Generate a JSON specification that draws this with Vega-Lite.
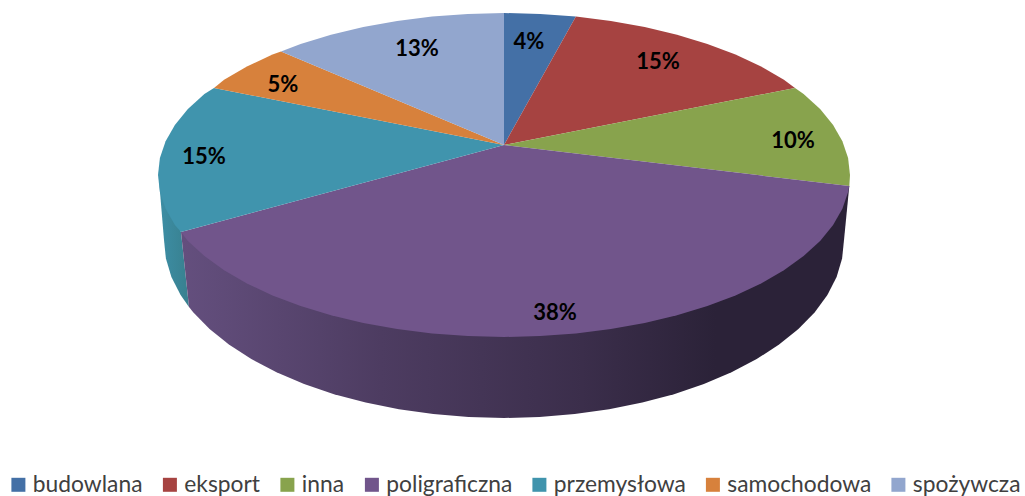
{"$schema":"https://vega.github.io/schema/vega-lite/v6.json","width":1025,"height":496,"padding":0,"autosize":{"type":"none"},"background":"white","config":{"view":{"stroke":null}},
"datasets":{
"walls_teal":[{"i":0,"x":159,"y":180},{"i":1,"x":164,"y":240},{"i":2,"x":165.9,"y":258.6},{"i":3,"x":171.4,"y":277},{"i":4,"x":180.6,"y":295},{"i":5,"x":189,"y":307},{"i":6,"x":181,"y":232}],
"walls_purple":[{"i":0,"x":849.3,"y":186},{"i":1,"x":844,"y":240},{"i":2,"x":842.1,"y":258.6},{"i":3,"x":836.6,"y":277},{"i":4,"x":827.4,"y":295},{"i":5,"x":814.6,"y":312.4},{"i":6,"x":798.4,"y":329},{"i":7,"x":779.1,"y":344.6},{"i":8,"x":756.7,"y":359.1},{"i":9,"x":731.5,"y":372.3},{"i":10,"x":703.9,"y":384},{"i":11,"x":674,"y":394.2},{"i":12,"x":642.3,"y":402.6},{"i":13,"x":609.1,"y":409.3},{"i":14,"x":574.7,"y":414.1},{"i":15,"x":539.5,"y":417},{"i":16,"x":504,"y":418},{"i":17,"x":468.5,"y":417},{"i":18,"x":433.3,"y":414.1},{"i":19,"x":398.9,"y":409.3},{"i":20,"x":365.7,"y":402.6},{"i":21,"x":334,"y":394.2},{"i":22,"x":304.1,"y":384},{"i":23,"x":276.5,"y":372.3},{"i":24,"x":251.3,"y":359.1},{"i":25,"x":228.9,"y":344.6},{"i":26,"x":209.6,"y":329},{"i":27,"x":193.4,"y":312.4},{"i":28,"x":189,"y":307},{"i":29,"x":181,"y":232}],
"slices":[
{"slice":"budowlana","i":0,"x":504,"y":145},{"slice":"budowlana","i":1,"x":504,"y":13},{"slice":"budowlana","i":2,"x":540.2,"y":13.9},{"slice":"budowlana","i":3,"x":575.9,"y":16.5},
{"slice":"eksport","i":0,"x":504,"y":145},{"slice":"eksport","i":1,"x":575.9,"y":16.5},{"slice":"eksport","i":2,"x":610.9,"y":20.9},{"slice":"eksport","i":3,"x":644.7,"y":27},{"slice":"eksport","i":4,"x":677,"y":34.7},{"slice":"eksport","i":5,"x":707.4,"y":43.9},{"slice":"eksport","i":6,"x":735.5,"y":54.6},{"slice":"eksport","i":7,"x":761.1,"y":66.6},{"slice":"eksport","i":8,"x":783.9,"y":79.8},{"slice":"eksport","i":9,"x":795,"y":88},
{"slice":"inna","i":0,"x":504,"y":145},{"slice":"inna","i":1,"x":795,"y":88},{"slice":"inna","i":2,"x":803.6,"y":94},{"slice":"inna","i":3,"x":820.1,"y":109.1},{"slice":"inna","i":4,"x":833.1,"y":124.9},{"slice":"inna","i":5,"x":842.4,"y":141.3},{"slice":"inna","i":6,"x":848.1,"y":158.1},{"slice":"inna","i":7,"x":850,"y":175},{"slice":"inna","i":8,"x":849.3,"y":186},
{"slice":"poligraficzna","i":0,"x":504,"y":145},{"slice":"poligraficzna","i":1,"x":849.3,"y":186},{"slice":"poligraficzna","i":2,"x":848.1,"y":191.9},{"slice":"poligraficzna","i":3,"x":842.4,"y":208.7},{"slice":"poligraficzna","i":4,"x":833.1,"y":225.1},{"slice":"poligraficzna","i":5,"x":820.1,"y":240.9},{"slice":"poligraficzna","i":6,"x":803.6,"y":256},{"slice":"poligraficzna","i":7,"x":783.9,"y":270.2},{"slice":"poligraficzna","i":8,"x":761.1,"y":283.4},{"slice":"poligraficzna","i":9,"x":735.5,"y":295.4},{"slice":"poligraficzna","i":10,"x":707.4,"y":306.1},{"slice":"poligraficzna","i":11,"x":677,"y":315.3},{"slice":"poligraficzna","i":12,"x":644.7,"y":323},{"slice":"poligraficzna","i":13,"x":610.9,"y":329.1},{"slice":"poligraficzna","i":14,"x":575.9,"y":333.5},{"slice":"poligraficzna","i":15,"x":540.2,"y":336.1},{"slice":"poligraficzna","i":16,"x":504,"y":337},{"slice":"poligraficzna","i":17,"x":467.8,"y":336.1},{"slice":"poligraficzna","i":18,"x":432.1,"y":333.5},{"slice":"poligraficzna","i":19,"x":397.1,"y":329.1},{"slice":"poligraficzna","i":20,"x":363.3,"y":323},{"slice":"poligraficzna","i":21,"x":331,"y":315.3},{"slice":"poligraficzna","i":22,"x":300.6,"y":306.1},{"slice":"poligraficzna","i":23,"x":272.5,"y":295.4},{"slice":"poligraficzna","i":24,"x":246.9,"y":283.4},{"slice":"poligraficzna","i":25,"x":224.1,"y":270.2},{"slice":"poligraficzna","i":26,"x":204.4,"y":256},{"slice":"poligraficzna","i":27,"x":187.9,"y":240.9},{"slice":"poligraficzna","i":28,"x":181,"y":232},
{"slice":"przemysłowa","i":0,"x":504,"y":145},{"slice":"przemysłowa","i":1,"x":181,"y":232},{"slice":"przemysłowa","i":2,"x":174.9,"y":225.1},{"slice":"przemysłowa","i":3,"x":165.6,"y":208.7},{"slice":"przemysłowa","i":4,"x":159.9,"y":191.9},{"slice":"przemysłowa","i":5,"x":158,"y":175},{"slice":"przemysłowa","i":6,"x":159.9,"y":158.1},{"slice":"przemysłowa","i":7,"x":165.6,"y":141.3},{"slice":"przemysłowa","i":8,"x":174.9,"y":124.9},{"slice":"przemysłowa","i":9,"x":187.9,"y":109.1},{"slice":"przemysłowa","i":10,"x":204.4,"y":94},{"slice":"przemysłowa","i":11,"x":214,"y":88},
{"slice":"samochodowa","i":0,"x":504,"y":145},{"slice":"samochodowa","i":1,"x":214,"y":88},{"slice":"samochodowa","i":2,"x":224.1,"y":79.8},{"slice":"samochodowa","i":3,"x":246.9,"y":66.6},{"slice":"samochodowa","i":4,"x":272.5,"y":54.6},{"slice":"samochodowa","i":5,"x":281,"y":51.4},
{"slice":"spożywcza","i":0,"x":504,"y":145},{"slice":"spożywcza","i":1,"x":281,"y":51.4},{"slice":"spożywcza","i":2,"x":300.6,"y":43.9},{"slice":"spożywcza","i":3,"x":331,"y":34.7},{"slice":"spożywcza","i":4,"x":363.3,"y":27},{"slice":"spożywcza","i":5,"x":397.1,"y":20.9},{"slice":"spożywcza","i":6,"x":432.1,"y":16.5},{"slice":"spożywcza","i":7,"x":467.8,"y":13.9},{"slice":"spożywcza","i":8,"x":504,"y":13}
],
"labels":[{"label":"4%","x":529,"y":40},{"label":"15%","x":658,"y":60},{"label":"10%","x":793,"y":139},{"label":"38%","x":555,"y":311},{"label":"15%","x":204,"y":155},{"label":"5%","x":283,"y":83},{"label":"13%","x":417,"y":47}]
},
"layer":[
{"data":{"name":"walls_teal"},"mark":{"type":"line","filled":true,"strokeWidth":0,"color":{"gradient":"linear","x1":0,"y1":0,"x2":1,"y2":0,"stops":[{"offset":0,"color":"#3d8ea5"},{"offset":1,"color":"#38808f"}]}},"encoding":{"x":{"field":"x","type":"quantitative","scale":{"domain":[0,1025]},"axis":null},"y":{"field":"y","type":"quantitative","scale":{"domain":[496,0]},"axis":null},"order":{"field":"i","type":"quantitative"}}},
{"data":{"name":"walls_purple"},"mark":{"type":"line","filled":true,"strokeWidth":0,"color":{"gradient":"linear","x1":0,"y1":0,"x2":1,"y2":0,"stops":[{"offset":0,"color":"#644f7e"},{"offset":0.3,"color":"#4d3c61"},{"offset":0.6,"color":"#3b2e4b"},{"offset":0.8,"color":"#2b2238"},{"offset":1,"color":"#2b2238"}]}},"encoding":{"x":{"field":"x","type":"quantitative","scale":{"domain":[0,1025]},"axis":null},"y":{"field":"y","type":"quantitative","scale":{"domain":[496,0]},"axis":null},"order":{"field":"i","type":"quantitative"}}},
{"data":{"name":"slices"},"mark":{"type":"line","filled":true,"strokeWidth":0},"encoding":{"x":{"field":"x","type":"quantitative","scale":{"domain":[0,1025]},"axis":null},"y":{"field":"y","type":"quantitative","scale":{"domain":[496,0]},"axis":null},"order":{"field":"i","type":"quantitative"},"color":{"field":"slice","type":"nominal","scale":{"domain":["budowlana","eksport","inna","poligraficzna","przemysłowa","samochodowa","spożywcza"],"range":["#4470A6","#A64341","#88A34D","#71558B","#4094AD","#D7813C","#92A6CE"]},"legend":{"title":null,"orient":"none","legendX":7,"legendY":473,"direction":"horizontal","columns":7,"columnPadding":15.5,"labelFont":"Lato","labelFontSize":22.8,"labelColor":"#404040","labelOffset":3,"symbolType":"square","symbolSize":196,"symbolStrokeWidth":0,"labelLimit":300}}}},
{"data":{"name":"labels"},"mark":{"type":"text","font":"Lato","fontWeight":"bold","fontSize":22,"dy":1.5,"color":"#000000","align":"center","baseline":"middle"},"encoding":{"x":{"field":"x","type":"quantitative","scale":{"domain":[0,1025]},"axis":null},"y":{"field":"y","type":"quantitative","scale":{"domain":[496,0]},"axis":null},"text":{"field":"label","type":"nominal"}}}
]}
